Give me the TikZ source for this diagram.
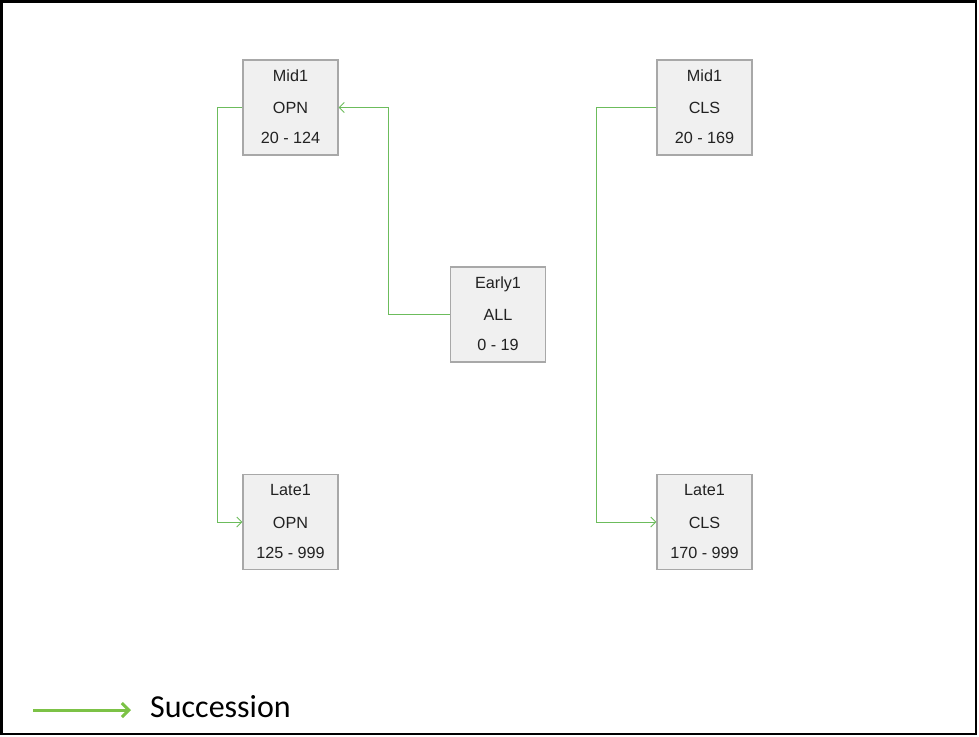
\documentclass[tikz,border=0pt]{standalone}
\usepackage{fontspec}
\setmainfont{Liberation Sans}
\newfontfamily\legendfont{Carlito}
\usetikzlibrary{arrows.meta}
\definecolor{linkgreen}{RGB}{108,188,92}
\definecolor{legendgreen}{RGB}{124,194,70}
\definecolor{boxfill}{RGB}{240,240,240}
\definecolor{boxline}{RGB}{168,168,168}
\definecolor{boxtext}{RGB}{34,34,34}
\tikzset{
  stagebox/.style={draw=boxline, fill=boxfill, line width=1.1pt,
    minimum width=95pt, minimum height=95pt, inner sep=0pt},
  stagetxt/.style={inner sep=0pt, text=boxtext, text height=11.6pt, text depth=0pt,
    font=\fontsize{16.2}{18}\selectfont},
  succ/.style={draw=linkgreen, line width=1pt,
    -{Straight Barb[length=5pt,width=10pt,line width=1pt]}},
}
\newcommand{\stagenode}[6]{%
  \node[stagebox] (#1) at (#2,#3) {};
  \node[stagetxt] (#1-a) at ([yshift=32pt]#1.center) {#4};
  \node[stagetxt] (#1-b) at ([yshift=-0.5pt]#1.center) {#5};
  \node[stagetxt] (#1-c) at ([yshift=-30.5pt]#1.center) {#6};
}
\begin{document}
\begin{tikzpicture}[x=1pt,y=-1pt]
  \useasboundingbox (0,0) rectangle (979,736);
  % outer frame
  \draw[line width=2.6pt] (1.3,1.3) rectangle (976,734);

  % stages
  \stagenode{mid1opn}{290.5}{107.5}{Mid1}{OPN}{20 - 124}
  \stagenode{mid1cls}{704.5}{107.5}{Mid1}{CLS}{20 - 169}
  \stagenode{early1}{498}{314.5}{Early1}{ALL}{0 - 19}
  \stagenode{late1opn}{290.5}{522}{Late1}{OPN}{125 - 999}
  \stagenode{late1cls}{704.5}{522}{Late1}{CLS}{170 - 999}

  % succession links
  \draw[succ] (early1.west) -- ++(-61,0) |- (mid1opn.east);
  \draw[succ] (mid1opn.west) -- ++(-25,0) |- (late1opn.west);
  \draw[succ] (mid1cls.west) -- ++(-60,0) |- (late1cls.west);

  % legend
  \coordinate (legA) at (33,710);
  \coordinate (legB) at (131,710);
  \draw[draw=legendgreen, line width=3pt,
    -{Straight Barb[length=7pt,width=14pt,line width=3pt]}] (legA) -- (legB);
  \node[anchor=west, inner sep=0pt, font=\legendfont\fontsize{32}{36}\selectfont]
    (legtext) at (150,707) {Succession};
\end{tikzpicture}
\end{document}
